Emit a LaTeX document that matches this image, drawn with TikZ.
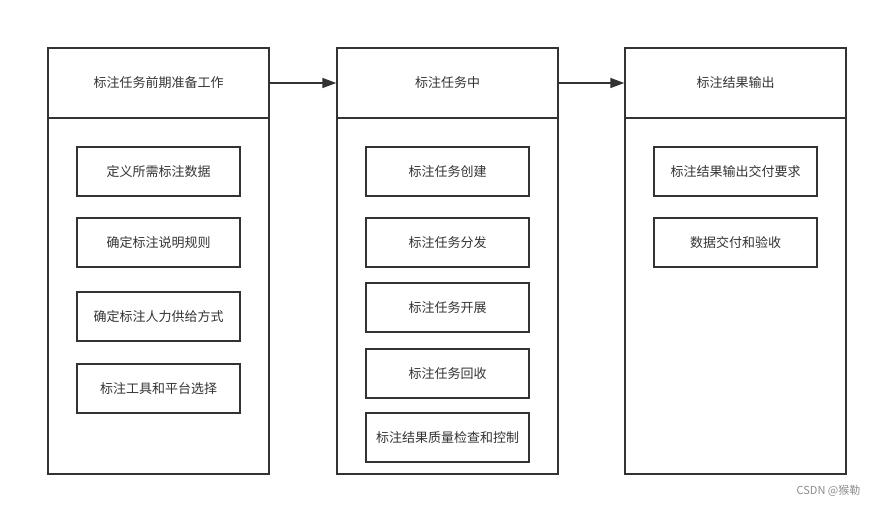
\documentclass[tikz,border=0pt]{standalone}
\usepackage{fontspec}
\setmainfont{Noto Sans CJK SC}
\usepackage{xcolor}
\usepackage{tikz}
\usetikzlibrary{arrows.meta, positioning}

\begin{document}
\begin{tikzpicture}[x=1pt, y=-1pt, every node/.style = {shape=rectangle, draw=black!80, line width=1.4pt, inner sep=0pt, font=\fontsize{13}{16}\selectfont, text=black!80}, colHead/.style = {minimum width=221pt, minimum height=70pt}, colBody/.style = {minimum width=221pt, minimum height=356pt}, item/.style = {minimum width=163pt, minimum height=49pt}]

\useasboundingbox (0,0) rectangle (878,506);

\node[colHead] (prepHead) at (158.5,83) {标注任务前期准备工作};
\node[colBody] (prepBody) at (158.5,296) {};
\node[colHead] (taskHead) at (447.5,83) {标注任务中};
\node[colBody] (taskBody) at (447.5,296) {};
\node[colHead] (outHead) at (735.5,83) {标注结果输出};
\node[colBody] (outBody) at (735.5,296) {};

\node[item] (defineData) at (158.5,171.5) {定义所需标注数据};
\node[item] (defineRules) at (158.5,242.5) {确定标注说明规则};
\node[item] (defineStaff) at (158.5,316.5) {确定标注人力供给方式};
\node[item] (chooseTool) at (158.5,388.5) {标注工具和平台选择};

\node[item] (taskCreate) at (447.5,171.5) {标注任务创建};
\node[item] (taskDispatch) at (447.5,242.5) {标注任务分发};
\node[item] (taskRun) at (447.5,307.5) {标注任务开展};
\node[item] (taskCollect) at (447.5,373.5) {标注任务回收};
\node[item] (qualityCheck) at (447.5,437.5) {标注结果质量检查和控制};

\node[item] (deliverReq) at (735.5,171.5) {标注结果输出交付要求};
\node[item] (deliverAccept) at (735.5,242.5) {数据交付和验收};

\node[draw=none, font=\fontsize{11}{13}\selectfont, text=black!45] (mark) at (828.5,491) {CSDN @猴勒};

\draw[-{Triangle[length=14pt, width=10pt]}, line width=1.4pt, black!80] (prepHead) -- (taskHead);
\draw[-{Triangle[length=14pt, width=10pt]}, line width=1.4pt, black!80] (taskHead) -- (outHead);
\end{tikzpicture}
\end{document}
